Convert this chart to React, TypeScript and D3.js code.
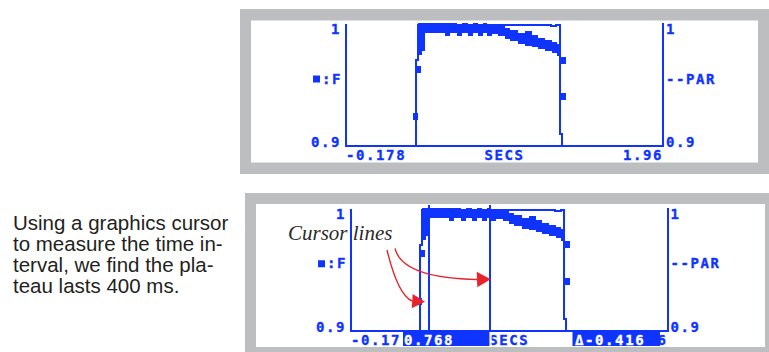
import React from 'react';
import * as d3 from 'd3';

// ---------------- data ----------------
const yDomain = [0.9, 1.0];
const yTickLabels = ['1', '0.9'];
const yTickValues = [1.0, 0.9];
const topXDomain = [-0.178, 1.96];
const bottomXDomain = [-0.17, 1.96];
const topXLabels = ['-0.178', 'SECS', '1.96'];
// lower screen: end labels partly hidden by the cursor read-outs ("-0.17|0", "1.9|6")
const bottomXLabels = ['-0.17', 'SECS', '6'];

// F trace: band envelope (noisy samples)
const fBandTime = [0.31, 0.335, 0.355, 0.49, 0.523, 0.571, 0.604, 0.645, 0.679, 0.712, 0.746, 0.773, 0.807, 0.85, 0.894, 0.93, 0.982, 1.029, 1.075, 1.117, 1.164, 1.211, 1.245, 1.272];
const fBandHigh = [1.0017, 1.0017, 1.0017, 1.0017, 1.0017, 1.0008, 1.0017, 1.0008, 1.0017, 1.0, 1.0017, 1.0, 1.0008, 0.9992, 0.9975, 0.9958, 0.9934, 0.995, 0.9917, 0.9893, 0.9876, 0.986, 0.9843, 0.9843];
const fBandLow = [0.975, 0.9785, 0.9934, 0.9909, 0.9934, 0.9909, 0.9934, 0.9909, 0.9934, 0.9909, 0.9934, 0.9909, 0.9925, 0.9912, 0.9885, 0.9865, 0.984, 0.983, 0.982, 0.98, 0.9785, 0.977, 0.9745, 0.9745];
// isolated F samples on the edges
const fPointTime = [0.292, 0.308, 1.288, 1.288];
const fPointValue = [0.924, 0.9636, 0.971, 0.9405];

// PAR trace
const parTime = [-0.17, 0.292, 0.292, 0.308, 0.308, 1.205, 1.205, 1.24, 1.24, 1.265, 1.265, 1.279, 1.279, 1.96];
const parValue = [0.9, 0.9, 0.971, 0.971, 1.0004, 1.0004, 0.999, 0.999, 1.0004, 1.0004, 0.9099, 0.9099, 0.9, 0.9];

const cursorTimes = [0.352, 0.768];
const cursorReadout = '0.768';
const cursorDelta = '\u0394-0.416';
const leftSeriesLabel = ':F';
const rightSeriesLabel = '--PAR';
const calloutLabel = 'Cursor lines';
const captionLines = ['Using a graphics cursor', 'to measure the time in-', 'terval, we find the pla-', 'teau lasts 400 ms.'];

// ---------------- layout ----------------
const BLUE = '#1034ff';
const GRAY = '#bdbec0';
const RED = '#e8242b';
const PITCH = 10;
const lcd = {
  fontFamily: "'DejaVu Sans Mono', monospace",
  fontWeight: 700 as const,
  fontSize: 14,
  letterSpacing: 1.6,
  stroke: BLUE,
  strokeWidth: 0.35,
};

const topCfg = {
  outer: [240, 9, 540, 165], inner: [251, 20.5, 507, 142],
  x0: 346, x1: 663, yTop: 25, yBot: 146, xDomain: topXDomain, xLabels: topXLabels, cursors: false,
};
const bottomCfg = {
  outer: [245, 193, 540, 165], inner: [256, 204, 509, 143],
  x0: 351, x1: 667.5, yTop: 210, yBot: 330.5, xDomain: bottomXDomain, xLabels: bottomXLabels, cursors: true,
};

function Panel({ cfg }: { cfg: typeof topCfg }) {
  const x = d3.scaleLinear().domain(cfg.xDomain).range([cfg.x0, cfg.x1]);
  const y = d3.scaleLinear().domain(yDomain).range([cfg.yBot, cfg.yTop]);
  const idx = d3.range(fBandTime.length);
  const band = d3
    .area<number>()
    .x((i) => x(fBandTime[i]))
    .y0((i) => y(fBandLow[i]))
    .y1((i) => y(fBandHigh[i]))
    .curve(d3.curveStepAfter);
  const par = d3
    .line<number>()
    .x((i) => x(parTime[i]))
    .y((i) => y(parValue[i]));
  const midY = (cfg.yTop + cfg.yBot) / 2;
  const labelY = cfg.yBot + 14;
  const [o, n] = [cfg.outer, cfg.inner];
  const white = { ...lcd, fill: '#fff', stroke: '#fff' };
  const endLab = cfg.xLabels[2];
  return (
    <g>
      <rect x={o[0]} y={o[1]} width={o[2]} height={o[3]} fill={GRAY} />
      <rect x={n[0]} y={n[1]} width={n[2]} height={n[3]} fill="#fff" />
      {/* cursors */}
      {cfg.cursors &&
        cursorTimes.map((t, i) => (
          <line key={'c' + i} x1={x(t)} x2={x(t)} y1={cfg.yTop - 5} y2={cfg.yBot} stroke={BLUE} strokeWidth={2} shapeRendering="crispEdges" />
        ))}
      {/* F band */}
      <path d={band(idx) || ''} fill={BLUE} shapeRendering="crispEdges" />
      {fPointTime.map((t, i) => (
        <rect key={'p' + i} x={x(t) - 2.5} y={y(fPointValue[i]) - 3.5} width={5} height={7} fill={BLUE} shapeRendering="crispEdges" />
      ))}
      {/* PAR line */}
      <path d={par(d3.range(parTime.length)) || ''} fill="none" stroke={BLUE} strokeWidth={2} shapeRendering="crispEdges" />
      {/* axes */}
      <line x1={cfg.x0} x2={cfg.x0} y1={cfg.yTop - 1} y2={cfg.yBot + 1} stroke={BLUE} strokeWidth={2} shapeRendering="crispEdges" />
      <line x1={cfg.x1} x2={cfg.x1} y1={cfg.yTop - 2} y2={cfg.yBot + 1} stroke={BLUE} strokeWidth={2} shapeRendering="crispEdges" />
      <line x1={cfg.x0} x2={cfg.x1} y1={cfg.yBot} y2={cfg.yBot} stroke={BLUE} strokeWidth={2} shapeRendering="crispEdges" />
      {/* y tick labels */}
      {yTickLabels.map((lab, i) => {
        const v = yTickValues[i];
        const by = v === yDomain[1] ? y(v) + 9 : y(v) + 1;
        return (
          <g key={'yl' + i}>
            <text x={cfg.x0 - 5 - lab.length * PITCH} y={by} fill={BLUE} {...lcd}>{lab}</text>
            <text x={cfg.x1 + 3} y={by} fill={BLUE} {...lcd}>{lab}</text>
          </g>
        );
      })}
      {/* series labels */}
      <rect x={cfg.x0 - 33} y={midY - 10} width={7} height={7} fill={BLUE} />
      <text x={cfg.x0 - 24} y={midY - 2} fill={BLUE} {...lcd}>{leftSeriesLabel}</text>
      <text x={cfg.x1 + 3} y={midY - 2} fill={BLUE} {...lcd}>{rightSeriesLabel}</text>
      {/* x labels */}
      <text x={cfg.x0} y={labelY} fill={BLUE} {...lcd}>{cfg.xLabels[0]}</text>
      <text x={(cfg.x0 + cfg.x1) / 2 - 20} y={labelY} fill={BLUE} {...lcd}>{cfg.xLabels[1]}</text>
      <text x={cfg.x1 - endLab.length * PITCH} y={labelY} fill={BLUE} {...lcd}>{endLab}</text>
      {cfg.cursors && (
        <g>
          <rect x={403} y={cfg.yBot} width={x(cursorTimes[1]) - 403 - 1} height={346 - cfg.yBot} fill={BLUE} />
          <text x={404} y={labelY} {...white}>{cursorReadout}</text>
          <line x1={x(cursorTimes[1]) + 0.5} x2={x(cursorTimes[1]) + 0.5} y1={cfg.yBot + 1.5} y2={345} stroke="#fff" strokeWidth={1.5} />
          <rect x={572.5} y={cfg.yBot} width={87.5} height={346 - cfg.yBot} fill={BLUE} />
          <text x={575} y={labelY} {...white}>{cursorDelta}</text>
        </g>
      )}
    </g>
  );
}

function Arrow({ d, head }: { d: string; head: string }) {
  return (
    <g>
      <path d={d} fill="none" stroke={RED} strokeWidth={1.4} />
      <polygon points={head} fill={RED} />
    </g>
  );
}

export default function App() {
  return (
    <svg width={769} height={352} style={{ position: 'absolute', left: 0, top: 0, background: '#fff' }}>
      <Panel cfg={topCfg} />
      <Panel cfg={bottomCfg} />
      {captionLines.map((line, i) => (
        <text key={i} x={13} y={230 + i * 21} fontFamily="'Liberation Sans', Arial, sans-serif" fontSize={20.5} fill="#231f20">
          {line}
        </text>
      ))}
      <text x={288} y={240} fontFamily="'Liberation Serif', 'Times New Roman', serif" fontStyle="italic" fontSize={21} fill="#2a2a2a">
        {calloutLabel}
      </text>
      <Arrow d="M387,250 Q398,295 412,301" head="412.7,294 425,301.7 411.7,308.3" />
      <Arrow d="M395,248.3 Q402,278 477,279.5" head="476.7,271.7 490.7,279.3 477.3,287.3" />
    </svg>
  );
}
